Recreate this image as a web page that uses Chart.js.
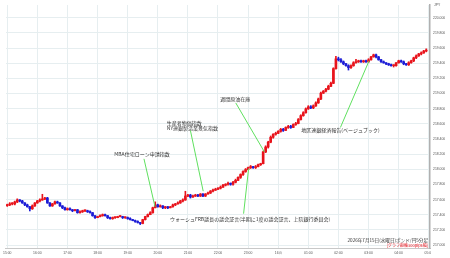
<!DOCTYPE html>
<html>
<head>
<meta charset="utf-8">
<script src="https://cdn.jsdelivr.net/npm/chart.js@4"></script>
<style>
html, body { margin: 0; padding: 0; background: #fff; }
</style>
</head>
<body>
<canvas id="fxChart" width="450" height="258"></canvas>
<script>
// ポンド/円 5分足 2026/07/15 15:00 - 16日 04:55
const hourLabels = ['15:00','16:00','17:00','18:00','19:00','20:00','21:00','22:00','23:00','16日','01:00','02:00','03:00','04:00','05:00'];

const opens = [
  217.520,217.530,217.543,217.543,217.569,217.595,217.582,217.556,217.530,217.505,
  217.479,217.517,217.556,217.582,217.595,217.608,217.621,217.556,217.517,217.543,
  217.569,217.556,217.517,217.492,217.466,217.479,217.466,217.453,217.466,217.427,
  217.440,217.453,217.453,217.440,217.427,217.388,217.362,217.375,217.388,217.401,
  217.388,217.362,217.349,217.362,217.362,217.375,217.375,217.362,217.362,217.349,
  217.336,217.323,217.310,217.298,217.285,217.336,217.375,217.401,217.427,217.492,
  217.530,217.505,217.517,217.492,217.505,217.492,217.505,217.530,217.543,217.556,
  217.582,217.595,217.647,217.660,217.634,217.647,217.660,217.647,217.673,217.647,
  217.673,217.686,217.712,217.724,217.737,217.750,217.763,217.789,217.802,217.815,
  217.802,217.828,217.854,217.893,217.931,217.970,217.996,218.022,218.035,218.022,
  218.035,218.061,218.074,218.229,218.294,218.358,218.423,218.462,218.475,218.501,
  218.527,218.514,218.552,218.565,218.552,218.591,218.604,218.656,218.708,218.747,
  218.798,218.824,218.811,218.837,218.876,218.928,219.005,219.031,219.057,219.096,
  219.135,219.329,219.458,219.445,219.419,219.393,219.367,219.342,219.367,219.406,
  219.419,219.432,219.419,219.432,219.419,219.445,219.484,219.510,219.484,219.445,
  219.419,219.406,219.393,219.380,219.367,219.367,219.406,219.432,219.419,219.393,
  219.380,219.406,219.432,219.471,219.497,219.523,219.536,219.561
];
const highs = [
  217.54,217.56,217.56,217.58,217.61,217.60,217.59,217.56,217.54,217.51,
  217.53,217.56,217.59,217.61,217.67,217.63,217.63,217.56,217.55,217.58,
  217.58,217.56,217.52,217.50,217.49,217.49,217.47,217.47,217.47,217.45,
  217.46,217.46,217.46,217.45,217.43,217.39,217.38,217.40,217.41,217.41,
  217.39,217.37,217.37,217.37,217.38,217.39,217.38,217.37,217.37,217.36,
  217.34,217.33,217.32,217.30,217.34,217.38,217.41,217.44,217.50,217.57,
  217.54,217.53,217.52,217.51,217.51,217.51,217.54,217.55,217.57,217.59,
  217.61,217.71,217.67,217.67,217.66,217.67,217.67,217.68,217.68,217.68,
  217.70,217.72,217.74,217.75,217.76,217.78,217.80,217.81,217.83,217.82,
  217.84,217.87,217.90,217.94,217.98,218.01,218.03,218.05,218.04,218.05,
  218.07,218.08,218.24,218.31,218.37,218.44,218.47,218.49,218.51,218.54,
  218.54,218.56,218.58,218.58,218.60,218.62,218.67,218.72,218.76,218.81,
  218.84,218.84,218.85,218.89,218.94,219.02,219.04,219.07,219.11,219.15,
  219.34,219.49,219.48,219.46,219.43,219.40,219.38,219.38,219.42,219.45,
  219.44,219.44,219.44,219.44,219.46,219.49,219.52,219.52,219.49,219.45,
  219.43,219.41,219.40,219.39,219.38,219.41,219.44,219.44,219.43,219.40,
  219.42,219.44,219.48,219.51,219.53,219.55,219.57,219.59
];
const lows = [
  217.51,217.52,217.53,217.53,217.56,217.57,217.55,217.52,217.50,217.45,
  217.47,217.51,217.55,217.57,217.59,217.60,217.55,217.51,217.51,217.54,
  217.55,217.51,217.48,217.46,217.46,217.46,217.44,217.45,217.42,217.42,
  217.43,217.44,217.43,217.42,217.38,217.35,217.36,217.37,217.38,217.38,
  217.35,217.34,217.34,217.35,217.36,217.37,217.35,217.35,217.34,217.33,
  217.32,217.30,217.29,217.27,217.28,217.33,217.37,217.40,217.42,217.49,
  217.50,217.50,217.48,217.48,217.48,217.49,217.50,217.52,217.54,217.55,
  217.57,217.59,217.64,217.62,217.63,217.64,217.64,217.64,217.64,217.64,
  217.67,217.68,217.70,217.72,217.73,217.74,217.76,217.78,217.79,217.79,
  217.79,217.82,217.85,217.88,217.92,217.96,217.99,218.01,218.01,218.01,
  218.03,218.05,218.07,218.22,218.28,218.35,218.41,218.45,218.47,218.49,
  218.50,218.51,218.54,218.54,218.55,218.58,218.60,218.65,218.70,218.74,
  218.79,218.80,218.80,218.83,218.87,218.92,219.00,219.02,219.05,219.09,
  219.13,219.32,219.43,219.41,219.38,219.36,219.31,219.33,219.36,219.40,
  219.41,219.41,219.41,219.41,219.41,219.44,219.48,219.47,219.44,219.41,
  219.40,219.38,219.37,219.36,219.35,219.36,219.40,219.41,219.38,219.37,
  219.37,219.40,219.42,219.46,219.49,219.51,219.53,219.55
];
const closes = [
  217.530,217.543,217.543,217.569,217.595,217.582,217.556,217.530,217.505,217.479,
  217.517,217.556,217.582,217.595,217.608,217.621,217.556,217.517,217.543,217.569,
  217.556,217.517,217.492,217.466,217.479,217.466,217.453,217.466,217.427,217.440,
  217.453,217.453,217.440,217.427,217.388,217.362,217.375,217.388,217.401,217.388,
  217.362,217.349,217.362,217.362,217.375,217.375,217.362,217.362,217.349,217.336,
  217.323,217.310,217.298,217.285,217.336,217.375,217.401,217.427,217.492,217.530,
  217.505,217.517,217.492,217.505,217.492,217.505,217.530,217.543,217.556,217.582,
  217.595,217.647,217.660,217.634,217.647,217.660,217.647,217.673,217.647,217.673,
  217.686,217.712,217.724,217.737,217.750,217.763,217.789,217.802,217.815,217.802,
  217.828,217.854,217.893,217.931,217.970,217.996,218.022,218.035,218.022,218.035,
  218.061,218.074,218.229,218.294,218.358,218.423,218.462,218.475,218.501,218.527,
  218.514,218.552,218.565,218.552,218.591,218.604,218.656,218.708,218.747,218.798,
  218.824,218.811,218.837,218.876,218.928,219.005,219.031,219.057,219.096,219.135,
  219.329,219.458,219.445,219.419,219.393,219.367,219.342,219.367,219.406,219.419,
  219.432,219.419,219.432,219.419,219.445,219.484,219.510,219.484,219.445,219.419,
  219.406,219.393,219.380,219.367,219.367,219.406,219.432,219.419,219.393,219.380,
  219.406,219.432,219.471,219.497,219.523,219.536,219.561,219.574
];
const yTicks = [217.0,217.2,217.4,217.6,217.8,218.0,218.2,218.4,218.6,218.8,219.0,219.2,219.4,219.6,219.8,220.0];

// 経済指標の吹き出し (ローソク足の番号と価格で位置指定)
const events = [
  { text: ['MBA住宅ローン申請指数'], tx: 53.7, tp: 218.203, align: 'center', from: [54.5, 218.138], to: [58.9, 217.504] },
  { text: ['生産者物価指数', 'NY連銀製造業景気指数'], tx: 63.6, tp: 218.616, align: 'left', from: [73.0, 218.513], to: [78.1, 217.711] },
  { text: ['週間原油在庫'], tx: 90.9, tp: 218.927, align: 'center', from: [91.1, 218.875], to: [102.5, 218.229] },
  { text: ['ウォーシュFRB議長の議会証言(半期に1度の議会証言、上院銀行委員会)'], tx: 96.8, tp: 217.336, align: 'center', from: [94.2, 217.414], to: [96.2, 218.009] },
  { text: ['地区連銀経済報告(ベージュブック)'], tx: 132.8, tp: 218.513, align: 'center', from: [132.8, 218.552], to: [144.2, 219.431] }
];

// 5分刻みのラベル (15:00 から 05:00 まで)
const labels = [];
for (let i = 0; i <= 168; i++) {
  labels.push(i % 12 === 0 ? hourLabels[i / 12] : '');
}

const UP = '#e8141c';
const DOWN = '#1c1cd6';
const gridColor = '#e6eef0';
const jpFont = '"Noto Sans CJK JP", "Noto Sans", sans-serif';

const bodyData = opens.map((o, i) => [o, closes[i]]);
const wickData = lows.map((l, i) => [l, highs[i]]);
const candleColors = opens.map((o, i) => closes[i] >= o ? UP : DOWN);

const notesPlugin = {
  id: 'notes',
  afterDatasetsDraw(chart) {
    const { ctx, scales: { x, y }, chartArea } = chart;
    ctx.save();
    events.forEach(ev => {
      ctx.strokeStyle = '#5fe05f';
      ctx.lineWidth = 1;
      ctx.beginPath();
      ctx.moveTo(x.getPixelForValue(ev.from[0]), y.getPixelForValue(ev.from[1]));
      ctx.lineTo(x.getPixelForValue(ev.to[0]), y.getPixelForValue(ev.to[1]));
      ctx.stroke();
      ctx.fillStyle = '#333';
      ctx.font = '5px ' + jpFont;
      ctx.textAlign = ev.align;
      ctx.textBaseline = 'middle';
      const px = x.getPixelForValue(ev.tx);
      const py = y.getPixelForValue(ev.tp);
      ev.text.forEach((t, k) => ctx.fillText(t, px, py + k * 5));
    });
    // 右下のタイトル
    ctx.textAlign = 'right';
    ctx.fillStyle = '#333';
    ctx.font = '4.6px ' + jpFont;
    ctx.fillText('2026年7月15日(水曜日)ポンド/円5分足', chartArea.right - 2, chartArea.bottom - 8);
    ctx.fillStyle = '#e8141c';
    ctx.font = '4px ' + jpFont;
    ctx.fillText('[グラフ縦軸300pips幅]', chartArea.right - 2, chartArea.bottom - 3);
    ctx.restore();
  },
  afterDraw(chart) {
    const { ctx, chartArea } = chart;
    ctx.save();
    // 右端で切れる時刻ラベル
    ctx.fillStyle = '#fff';
    ctx.fillRect(chartArea.right + 1, chartArea.bottom + 1, 20, 10);
    ctx.fillStyle = '#555';
    ctx.font = '3.4px "Liberation Sans", sans-serif';
    ctx.textAlign = 'left';
    ctx.textBaseline = 'middle';
    ctx.fillText('JPY', chartArea.right + 4, 5);
    ctx.restore();
  }
};

new Chart(document.getElementById('fxChart'), {
  type: 'bar',
  data: {
    labels: labels,
    datasets: [
      {
        data: wickData,
        backgroundColor: candleColors,
        barThickness: 1,
        grouped: false
      },
      {
        data: bodyData,
        backgroundColor: candleColors,
        barThickness: 2,
        minBarLength: 1,
        grouped: false
      }
    ]
  },
  options: {
    responsive: false,
    animation: false,
    devicePixelRatio: 1,
    layout: { padding: 0 },
    plugins: {
      legend: { display: false },
      tooltip: { enabled: false }
    },
    scales: {
      x: {
        grid: {
          offset: false,
          drawTicks: false,
          color: c => (c.index % 12 === 0 ? gridColor : 'rgba(0,0,0,0)')
        },
        border: { color: '#c8c8c8', width: 1 },
        ticks: {
          autoSkip: false,
          maxRotation: 0,
          padding: 3,
          color: '#555',
          font: { size: 3.4, family: '"Liberation Sans", sans-serif' }
        },
        afterFit: s => { s.height = 10; }
      },
      y: {
        position: 'right',
        min: 216.961,
        max: 220.168,
        afterBuildTicks: s => { s.ticks = yTicks.map(v => ({ value: v })); },
        grid: { color: gridColor, drawTicks: false },
        border: { color: '#b0b0b0', width: 1.5 },
        ticks: {
          padding: 3,
          color: '#555',
          font: { size: 3.4, family: '"Liberation Sans", sans-serif' },
          callback: v => v.toFixed(3)
        },
        afterFit: s => { s.width = 20; }
      }
    }
  },
  plugins: [notesPlugin]
});
</script>
</body>
</html>
